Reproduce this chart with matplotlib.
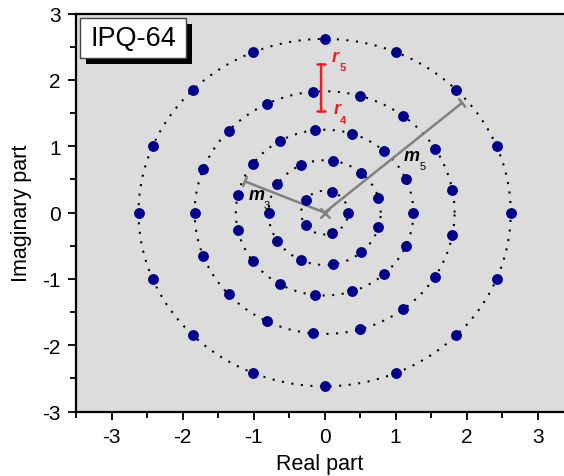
import numpy as np
import matplotlib
matplotlib.use("Agg")
import matplotlib.pyplot as plt
from matplotlib.patches import Rectangle
from matplotlib.ticker import MultipleLocator

plt.rcParams['font.family'] = ['Liberation Sans', 'DejaVu Sans']

# ---- data ----
ring_radii = [0.33, 0.79, 1.25, 1.83, 2.62]
ring1_angles = [0, 72, 144, 216, 288]
ring2_angles = [180.0, 212.7, 245.5, 278.2, 310.9, 343.6, 16.4, 49.1, 81.8, 114.5, 147.3]
ring3_angles = [0, 24, 48, 72, 96, 120, 144, 168, 192, 216, 240, 264, 288, 312, 336]
ring4_angles = [180.0, 201.2, 222.4, 243.5, 264.7, 285.9, 307.1, 328.2, 349.4,
                10.6, 31.8, 52.9, 74.1, 95.3, 116.5, 137.6, 158.8]
ring5_angles = [0, 22.5, 45, 67.5, 90, 112.5, 135, 157.5, 180, 202.5, 225, 247.5,
                270, 292.5, 315, 337.5]
ring_angles = [ring1_angles, ring2_angles, ring3_angles, ring4_angles, ring5_angles]

x_ticks = [-3, -2, -1, 0, 1, 2, 3]
y_ticks = [-3, -2, -1, 0, 1, 2, 3]

m3_end = (-1.12, 0.47)
m5_end = (1.935, 1.655)
r_bar_x = -0.05
r_bar_y = (1.53, 2.24)
title_text = "IPQ-64"

# ---- figure ----
fig = plt.figure(figsize=(5.64, 4.77), dpi=100)
ax = fig.add_axes([76 / 564, 64.5 / 477, 1 - 76 / 564, (412.5 - 14.7) / 477])
ax.set_facecolor('#dcdcdc')
ax.set_xlim(-3.5, 3.37)
ax.set_ylim(-3, 3)

theta = np.linspace(0, 2 * np.pi, 721)
for r in ring_radii:
    ax.plot(r * np.cos(theta), r * np.sin(theta), color='black', lw=1.5,
            linestyle=(0, (1, 3.6)), dash_capstyle='butt', zorder=2)

for r, angs in zip(ring_radii, ring_angles):
    a = np.deg2rad(np.array(angs))
    ax.plot(r * np.cos(a), r * np.sin(a), 'o', color='#00008B', ms=6.8,
            mec='#00008B', zorder=4, clip_on=False)

# grey radius lines
grey = '#808080'
for end in (m3_end, m5_end):
    ax.annotate('', xy=end, xytext=(0, 0),
                arrowprops=dict(arrowstyle='|-|, widthA=0, widthB=0.35', color=grey,
                                lw=1.8, shrinkA=0, shrinkB=0), zorder=3)
ax.plot([0], [0], marker='x', color=grey, ms=7, mew=1.8, zorder=3)

# labels m3, m5
ax.text(-0.96, 0.28, 'm', fontsize=13, style='italic', fontweight='bold',
        ha='center', va='center', zorder=5)
ax.text(-0.81, 0.12, '3', fontsize=8, ha='center', va='center', zorder=5)
ax.text(1.23, 0.86, 'm', fontsize=13, style='italic', fontweight='bold',
        ha='center', va='center', zorder=5)
ax.text(1.38, 0.70, '5', fontsize=8, ha='center', va='center', zorder=5)

# red bar
red = '#ee1c24'
ax.annotate('', xy=(r_bar_x, r_bar_y[0]), xytext=(r_bar_x, r_bar_y[1]),
            arrowprops=dict(arrowstyle='|-|, widthA=0.3, widthB=0.3', color=red,
                            lw=1.8, shrinkA=0, shrinkB=0), zorder=5)
ax.text(0.15, 2.35, 'r', fontsize=13, style='italic', fontweight='bold', color=red,
        ha='center', va='center', zorder=5)
ax.text(0.25, 2.19, '5', fontsize=8, fontweight='bold', color=red, ha='center', va='center', zorder=5)
ax.text(0.17, 1.57, 'r', fontsize=13, style='italic', fontweight='bold', color=red,
        ha='center', va='center', zorder=5)
ax.text(0.26, 1.40, '4', fontsize=8, fontweight='bold', color=red, ha='center', va='center', zorder=5)

# title box with shadow
ax.add_patch(Rectangle((-3.355, 2.24), 1.49, 0.61, facecolor='black', edgecolor='none', zorder=6))
ax.add_patch(Rectangle((-3.44, 2.33), 1.49, 0.61, facecolor='white', edgecolor='#444444',
                       lw=1.0, zorder=7))
ax.text(-2.695, 2.635, title_text, fontsize=19.5, ha='center', va='center', zorder=8)

# axes styling
for s in ('left', 'bottom', 'top'):
    ax.spines[s].set_linewidth(1.6)
    ax.spines[s].set_color('black')
ax.spines['right'].set_visible(False)
ax.set_xticks(x_ticks)
ax.set_yticks(y_ticks)
ax.xaxis.set_minor_locator(MultipleLocator(0.5))
ax.yaxis.set_minor_locator(MultipleLocator(0.5))
ax.tick_params(which='both', direction='out', top=False, right=False, width=1.3,
               labelsize=15)
ax.tick_params(which='major', length=6, pad=5)
ax.tick_params(which='minor', length=4.5)
ax.set_xticklabels([str(v) for v in x_ticks])
ax.set_yticklabels([str(v) for v in y_ticks])
ax.set_xlabel('Real part', fontsize=15.5, labelpad=5)
ax.set_ylabel('Imaginary part', fontsize=15.5, labelpad=7)

fig.savefig('out.png', dpi=100)
